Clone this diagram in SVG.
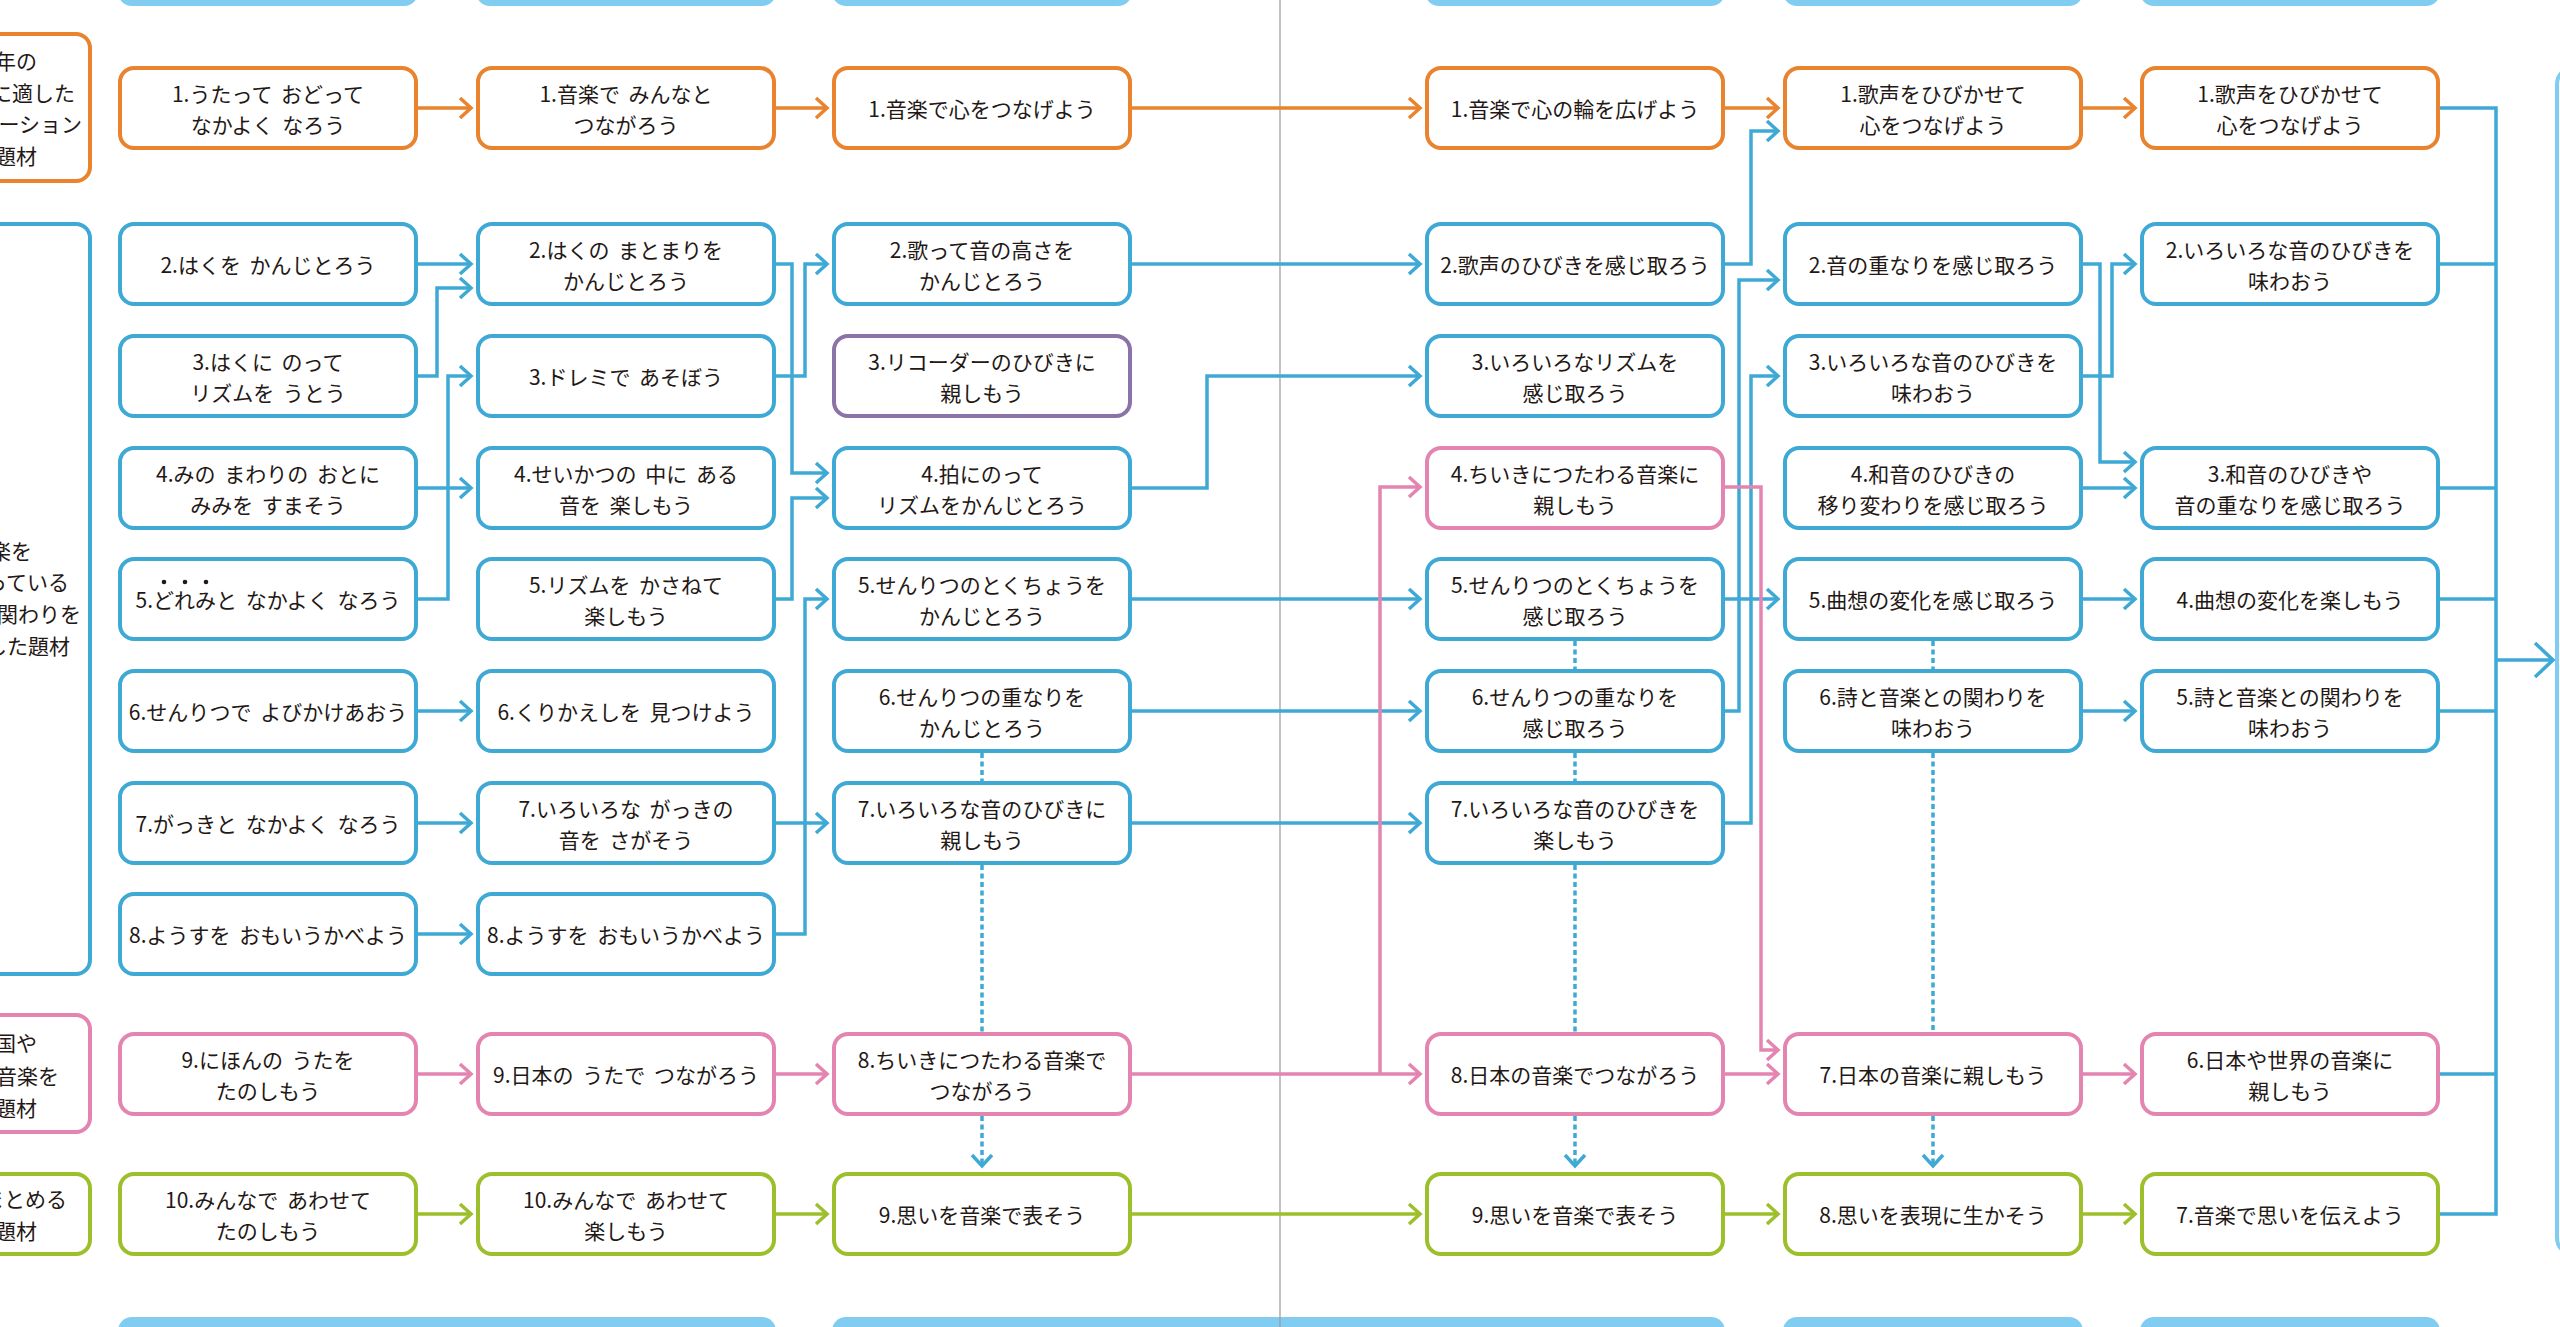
<svg xmlns="http://www.w3.org/2000/svg" width="2560" height="1327" viewBox="0 0 2560 1327">
<defs>
<style>
.n{fill:#fff;stroke-width:4}
.or{stroke:#e9832e}.bl{stroke:#3fa9d5}.pu{stroke:#8b72a8}.pk{stroke:#e385b0}.gr{stroke:#9dbf2b}
.t{font-family:"Noto Sans CJK JP","Noto Sans",sans-serif;font-size:21px;fill:#231815;text-anchor:middle;dominant-baseline:central;word-spacing:4px}
.ct{font-family:"Noto Sans CJK JP","Noto Sans",sans-serif;font-size:21px;fill:#231815;text-anchor:end;dominant-baseline:central}
.c{fill:none;stroke-width:3.5}
.d{fill:none;stroke-width:3.5;stroke-dasharray:5 3.5}
.bar{fill:#80cdf1}
.cat{fill:#fff;stroke-width:4}
</style>
<marker id="ao" markerUnits="userSpaceOnUse" markerWidth="14" markerHeight="22" refX="12" refY="11" orient="auto" overflow="visible"><path d="M1,1 L12,11 L1,21" fill="none" stroke="#e9832e" stroke-width="3.5"/></marker>
<marker id="ab" markerUnits="userSpaceOnUse" markerWidth="14" markerHeight="22" refX="12" refY="11" orient="auto" overflow="visible"><path d="M1,1 L12,11 L1,21" fill="none" stroke="#3fa9d5" stroke-width="3.5"/></marker>
<marker id="ap" markerUnits="userSpaceOnUse" markerWidth="14" markerHeight="22" refX="12" refY="11" orient="auto" overflow="visible"><path d="M1,1 L12,11 L1,21" fill="none" stroke="#e385b0" stroke-width="3.5"/></marker>
<marker id="ag" markerUnits="userSpaceOnUse" markerWidth="14" markerHeight="22" refX="12" refY="11" orient="auto" overflow="visible"><path d="M1,1 L12,11 L1,21" fill="none" stroke="#9dbf2b" stroke-width="3.5"/></marker>
<marker id="abig" markerUnits="userSpaceOnUse" markerWidth="22" markerHeight="38" refX="19" refY="18" orient="auto" overflow="visible"><path d="M1,1 L19,18 L1,35" fill="none" stroke="#3fa9d5" stroke-width="3.5"/></marker>
</defs>
<rect x="0" y="0" width="2560" height="1327" fill="#fff"/>

<g id="bars">
<rect class="bar" x="118" y="-30" width="300" height="36" rx="14"/>
<rect class="bar" x="476" y="-30" width="300" height="36" rx="14"/>
<rect class="bar" x="832" y="-30" width="300" height="36" rx="14"/>
<rect class="bar" x="1425" y="-30" width="300" height="36" rx="14"/>
<rect class="bar" x="1783" y="-30" width="300" height="36" rx="14"/>
<rect class="bar" x="2140" y="-30" width="300" height="36" rx="14"/>
<rect class="bar" x="118" y="1317" width="658" height="40" rx="14"/>
<rect class="bar" x="832" y="1317" width="893" height="40" rx="14"/>
<rect class="bar" x="1783" y="1317" width="300" height="40" rx="14"/>
<rect class="bar" x="2140" y="1317" width="300" height="40" rx="14"/>
</g>
<line x1="1280" y1="0" x2="1280" y2="1327" stroke="#9a9a9a" stroke-width="1.2"/>
<rect x="2557" y="68" width="100" height="1186" rx="16" fill="none" stroke="#80cdf1" stroke-width="4"/>

<g id="categories">
<g id="cat-orange"><rect class="cat or" x="-30" y="34" width="120" height="147" rx="14"/>
<text class="ct" x="37" y="60">年の</text><text class="ct" x="75" y="92">に適した</text><text class="ct" x="82" y="123">ケーション</text><text class="ct" x="37" y="155">題材</text></g>
<g id="cat-blue"><rect class="cat bl" x="-30" y="224" width="120" height="750" rx="14"/>
<text class="ct" x="32" y="550">楽を</text><text class="ct" x="69" y="581">っている</text><text class="ct" x="81" y="613">関わりを</text><text class="ct" x="70" y="645">した題材</text></g>
<g id="cat-pink"><rect class="cat pk" x="-30" y="1015" width="120" height="117" rx="14"/>
<text class="ct" x="37" y="1042">国や</text><text class="ct" x="59" y="1075">音楽を</text><text class="ct" x="37" y="1107">題材</text></g>
<g id="cat-green"><rect class="cat gr" x="-30" y="1174" width="120" height="80" rx="14"/>
<text class="ct" x="67" y="1198">まとめる</text><text class="ct" x="37" y="1230">題材</text></g>
</g>

<g id="connectors">
<!-- orange -->
<path class="c or" marker-end="url(#ao)" d="M418,108 H471"/>
<path class="c or" marker-end="url(#ao)" d="M776,108 H827"/>
<path class="c or" marker-end="url(#ao)" d="M1132,108 H1420"/>
<path class="c or" marker-end="url(#ao)" d="M1725,108 H1778"/>
<path class="c or" marker-end="url(#ao)" d="M2083,108 H2135"/>
<!-- blue col1-col2 -->
<path class="c bl" marker-end="url(#ab)" d="M418,264 H471"/>
<path class="c bl" marker-end="url(#ab)" d="M418,376 H437 V288 H471"/>
<path class="c bl" marker-end="url(#ab)" d="M418,488 H471"/>
<path class="c bl" marker-end="url(#ab)" d="M418,599 H448 V376 H471"/>
<path class="c bl" marker-end="url(#ab)" d="M418,711 H471"/>
<path class="c bl" marker-end="url(#ab)" d="M418,823 H471"/>
<path class="c bl" marker-end="url(#ab)" d="M418,934 H471"/>
<!-- blue col2-col3 -->
<path class="c bl" marker-end="url(#ab)" d="M776,264 H792 V473 H827"/>
<path class="c bl" marker-end="url(#ab)" d="M776,376 H805 V264 H827"/>
<path class="c bl" marker-end="url(#ab)" d="M776,599 H792 V498 H827"/>
<path class="c bl" marker-end="url(#ab)" d="M776,823 H827"/>
<path class="c bl" marker-end="url(#ab)" d="M776,934 H805 V599 H827"/>
<!-- blue col3-col4 -->
<path class="c bl" marker-end="url(#ab)" d="M1132,264 H1420"/>
<path class="c bl" marker-end="url(#ab)" d="M1132,488 H1207 V376 H1420"/>
<path class="c bl" marker-end="url(#ab)" d="M1132,599 H1420"/>
<path class="c bl" marker-end="url(#ab)" d="M1132,711 H1420"/>
<path class="c bl" marker-end="url(#ab)" d="M1132,823 H1420"/>
<!-- blue col4-col5 -->
<path class="c bl" marker-end="url(#ab)" d="M1725,264 H1751 V131 H1778"/>
<path class="c bl" marker-end="url(#ab)" d="M1725,711 H1739 V280 H1778"/>
<path class="c bl" marker-end="url(#ab)" d="M1725,823 H1751 V376 H1778"/>
<path class="c bl" marker-end="url(#ab)" d="M1725,599 H1778"/>
<!-- blue col5-col6 -->
<path class="c bl" marker-end="url(#ab)" d="M2083,264 H2100 V462 H2135"/>
<path class="c bl" marker-end="url(#ab)" d="M2083,376 H2112 V264 H2135"/>
<path class="c bl" marker-end="url(#ab)" d="M2083,488 H2135"/>
<path class="c bl" marker-end="url(#ab)" d="M2083,599 H2135"/>
<path class="c bl" marker-end="url(#ab)" d="M2083,711 H2135"/>
<!-- bus -->
<path class="c bl" d="M2440,108 H2496 V1214 H2440"/>
<path class="c bl" d="M2440,264 H2496 M2440,488 H2496 M2440,599 H2496 M2440,711 H2496 M2440,1074 H2496"/>
<path class="c bl" marker-end="url(#abig)" d="M2496,660 H2553"/>
<!-- pink -->
<path class="c pk" marker-end="url(#ap)" d="M418,1074 H471"/>
<path class="c pk" marker-end="url(#ap)" d="M776,1074 H827"/>
<path class="c pk" marker-end="url(#ap)" d="M1132,1074 H1420"/>
<path class="c pk" marker-end="url(#ap)" d="M1380,1074 V487 H1420"/>
<path class="c pk" marker-end="url(#ap)" d="M1725,487 H1761 V1050 H1778"/>
<path class="c pk" marker-end="url(#ap)" d="M1725,1074 H1778"/>
<path class="c pk" marker-end="url(#ap)" d="M2083,1074 H2135"/>
<!-- green -->
<path class="c gr" marker-end="url(#ag)" d="M418,1214 H471"/>
<path class="c gr" marker-end="url(#ag)" d="M776,1214 H827"/>
<path class="c gr" marker-end="url(#ag)" d="M1132,1214 H1420"/>
<path class="c gr" marker-end="url(#ag)" d="M1725,1214 H1778"/>
<path class="c gr" marker-end="url(#ag)" d="M2083,1214 H2135"/>
<!-- dotted -->
<path class="d bl" d="M982,753 V781 M982,865 V1032"/>
<path class="d bl" marker-end="url(#ab)" d="M982,1116 V1166"/>
<path class="d bl" d="M1575,641 V669 M1575,753 V781 M1575,865 V1032"/>
<path class="d bl" marker-end="url(#ab)" d="M1575,1116 V1166"/>
<path class="d bl" d="M1933,641 V669 M1933,753 V1032"/>
<path class="d bl" marker-end="url(#ab)" d="M1933,1116 V1166"/>
</g>

<g id="nodes">
<!-- column 1 -->
<g id="c1r1"><rect class="n or" x="120" y="68" width="296" height="80" rx="14"/><text class="t" x="268" y="92.5">1.うたって おどって</text><text class="t" x="268" y="123.5">なかよく なろう</text></g>
<g id="c1r2"><rect class="n bl" x="120" y="224" width="296" height="80" rx="14"/><text class="t" x="268" y="264">2.はくを かんじとろう</text></g>
<g id="c1r3"><rect class="n bl" x="120" y="336" width="296" height="80" rx="14"/><text class="t" x="268" y="360.5">3.はくに のって</text><text class="t" x="268" y="391.5">リズムを うとう</text></g>
<g id="c1r4"><rect class="n bl" x="120" y="448" width="296" height="80" rx="14"/><text class="t" x="268" y="472.5">4.みの まわりの おとに</text><text class="t" x="268" y="503.5">みみを すまそう</text></g>
<g id="c1r5"><rect class="n bl" x="120" y="559" width="296" height="80" rx="14"/><text class="t" x="268" y="599">5.どれみと なかよく なろう</text><circle cx="164" cy="582" r="2.3" fill="#231815"/><circle cx="185" cy="582" r="2.3" fill="#231815"/><circle cx="206" cy="582" r="2.3" fill="#231815"/></g>
<g id="c1r6"><rect class="n bl" x="120" y="671" width="296" height="80" rx="14"/><text class="t" x="268" y="711">6.せんりつで よびかけあおう</text></g>
<g id="c1r7"><rect class="n bl" x="120" y="783" width="296" height="80" rx="14"/><text class="t" x="268" y="823">7.がっきと なかよく なろう</text></g>
<g id="c1r8"><rect class="n bl" x="120" y="894" width="296" height="80" rx="14"/><text class="t" x="268" y="934">8.ようすを おもいうかべよう</text></g>
<g id="c1r9"><rect class="n pk" x="120" y="1034" width="296" height="80" rx="14"/><text class="t" x="268" y="1058.5">9.にほんの うたを</text><text class="t" x="268" y="1089.5">たのしもう</text></g>
<g id="c1r10"><rect class="n gr" x="120" y="1174" width="296" height="80" rx="14"/><text class="t" x="268" y="1198.5">10.みんなで あわせて</text><text class="t" x="268" y="1229.5">たのしもう</text></g>
<!-- column 2 -->
<g id="c2r1"><rect class="n or" x="478" y="68" width="296" height="80" rx="14"/><text class="t" x="626" y="92.5">1.音楽で みんなと</text><text class="t" x="626" y="123.5">つながろう</text></g>
<g id="c2r2"><rect class="n bl" x="478" y="224" width="296" height="80" rx="14"/><text class="t" x="626" y="248.5">2.はくの まとまりを</text><text class="t" x="626" y="279.5">かんじとろう</text></g>
<g id="c2r3"><rect class="n bl" x="478" y="336" width="296" height="80" rx="14"/><text class="t" x="626" y="376">3.ドレミで あそぼう</text></g>
<g id="c2r4"><rect class="n bl" x="478" y="448" width="296" height="80" rx="14"/><text class="t" x="626" y="472.5">4.せいかつの 中に ある</text><text class="t" x="626" y="503.5">音を 楽しもう</text></g>
<g id="c2r5"><rect class="n bl" x="478" y="559" width="296" height="80" rx="14"/><text class="t" x="626" y="583.5">5.リズムを かさねて</text><text class="t" x="626" y="614.5">楽しもう</text></g>
<g id="c2r6"><rect class="n bl" x="478" y="671" width="296" height="80" rx="14"/><text class="t" x="626" y="711">6.くりかえしを 見つけよう</text></g>
<g id="c2r7"><rect class="n bl" x="478" y="783" width="296" height="80" rx="14"/><text class="t" x="626" y="807.5">7.いろいろな がっきの</text><text class="t" x="626" y="838.5">音を さがそう</text></g>
<g id="c2r8"><rect class="n bl" x="478" y="894" width="296" height="80" rx="14"/><text class="t" x="626" y="934">8.ようすを おもいうかべよう</text></g>
<g id="c2r9"><rect class="n pk" x="478" y="1034" width="296" height="80" rx="14"/><text class="t" x="626" y="1074">9.日本の うたで つながろう</text></g>
<g id="c2r10"><rect class="n gr" x="478" y="1174" width="296" height="80" rx="14"/><text class="t" x="626" y="1198.5">10.みんなで あわせて</text><text class="t" x="626" y="1229.5">楽しもう</text></g>
<!-- column 3 -->
<g id="c3r1"><rect class="n or" x="834" y="68" width="296" height="80" rx="14"/><text class="t" x="982" y="108">1.音楽で心をつなげよう</text></g>
<g id="c3r2"><rect class="n bl" x="834" y="224" width="296" height="80" rx="14"/><text class="t" x="982" y="248.5">2.歌って音の高さを</text><text class="t" x="982" y="279.5">かんじとろう</text></g>
<g id="c3r3"><rect class="n pu" x="834" y="336" width="296" height="80" rx="14"/><text class="t" x="982" y="360.5">3.リコーダーのひびきに</text><text class="t" x="982" y="391.5">親しもう</text></g>
<g id="c3r4"><rect class="n bl" x="834" y="448" width="296" height="80" rx="14"/><text class="t" x="982" y="472.5">4.拍にのって</text><text class="t" x="982" y="503.5">リズムをかんじとろう</text></g>
<g id="c3r5"><rect class="n bl" x="834" y="559" width="296" height="80" rx="14"/><text class="t" x="982" y="583.5">5.せんりつのとくちょうを</text><text class="t" x="982" y="614.5">かんじとろう</text></g>
<g id="c3r6"><rect class="n bl" x="834" y="671" width="296" height="80" rx="14"/><text class="t" x="982" y="695.5">6.せんりつの重なりを</text><text class="t" x="982" y="726.5">かんじとろう</text></g>
<g id="c3r7"><rect class="n bl" x="834" y="783" width="296" height="80" rx="14"/><text class="t" x="982" y="807.5">7.いろいろな音のひびきに</text><text class="t" x="982" y="838.5">親しもう</text></g>
<g id="c3r9"><rect class="n pk" x="834" y="1034" width="296" height="80" rx="14"/><text class="t" x="982" y="1058.5">8.ちいきにつたわる音楽で</text><text class="t" x="982" y="1089.5">つながろう</text></g>
<g id="c3r10"><rect class="n gr" x="834" y="1174" width="296" height="80" rx="14"/><text class="t" x="982" y="1214">9.思いを音楽で表そう</text></g>
<!-- column 4 -->
<g id="c4r1"><rect class="n or" x="1427" y="68" width="296" height="80" rx="14"/><text class="t" x="1575" y="108">1.音楽で心の輪を広げよう</text></g>
<g id="c4r2"><rect class="n bl" x="1427" y="224" width="296" height="80" rx="14"/><text class="t" x="1575" y="264">2.歌声のひびきを感じ取ろう</text></g>
<g id="c4r3"><rect class="n bl" x="1427" y="336" width="296" height="80" rx="14"/><text class="t" x="1575" y="360.5">3.いろいろなリズムを</text><text class="t" x="1575" y="391.5">感じ取ろう</text></g>
<g id="c4r4"><rect class="n pk" x="1427" y="448" width="296" height="80" rx="14"/><text class="t" x="1575" y="472.5">4.ちいきにつたわる音楽に</text><text class="t" x="1575" y="503.5">親しもう</text></g>
<g id="c4r5"><rect class="n bl" x="1427" y="559" width="296" height="80" rx="14"/><text class="t" x="1575" y="583.5">5.せんりつのとくちょうを</text><text class="t" x="1575" y="614.5">感じ取ろう</text></g>
<g id="c4r6"><rect class="n bl" x="1427" y="671" width="296" height="80" rx="14"/><text class="t" x="1575" y="695.5">6.せんりつの重なりを</text><text class="t" x="1575" y="726.5">感じ取ろう</text></g>
<g id="c4r7"><rect class="n bl" x="1427" y="783" width="296" height="80" rx="14"/><text class="t" x="1575" y="807.5">7.いろいろな音のひびきを</text><text class="t" x="1575" y="838.5">楽しもう</text></g>
<g id="c4r9"><rect class="n pk" x="1427" y="1034" width="296" height="80" rx="14"/><text class="t" x="1575" y="1074">8.日本の音楽でつながろう</text></g>
<g id="c4r10"><rect class="n gr" x="1427" y="1174" width="296" height="80" rx="14"/><text class="t" x="1575" y="1214">9.思いを音楽で表そう</text></g>
<!-- column 5 -->
<g id="c5r1"><rect class="n or" x="1785" y="68" width="296" height="80" rx="14"/><text class="t" x="1933" y="92.5">1.歌声をひびかせて</text><text class="t" x="1933" y="123.5">心をつなげよう</text></g>
<g id="c5r2"><rect class="n bl" x="1785" y="224" width="296" height="80" rx="14"/><text class="t" x="1933" y="264">2.音の重なりを感じ取ろう</text></g>
<g id="c5r3"><rect class="n bl" x="1785" y="336" width="296" height="80" rx="14"/><text class="t" x="1933" y="360.5">3.いろいろな音のひびきを</text><text class="t" x="1933" y="391.5">味わおう</text></g>
<g id="c5r4"><rect class="n bl" x="1785" y="448" width="296" height="80" rx="14"/><text class="t" x="1933" y="472.5">4.和音のひびきの</text><text class="t" x="1933" y="503.5">移り変わりを感じ取ろう</text></g>
<g id="c5r5"><rect class="n bl" x="1785" y="559" width="296" height="80" rx="14"/><text class="t" x="1933" y="599">5.曲想の変化を感じ取ろう</text></g>
<g id="c5r6"><rect class="n bl" x="1785" y="671" width="296" height="80" rx="14"/><text class="t" x="1933" y="695.5">6.詩と音楽との関わりを</text><text class="t" x="1933" y="726.5">味わおう</text></g>
<g id="c5r9"><rect class="n pk" x="1785" y="1034" width="296" height="80" rx="14"/><text class="t" x="1933" y="1074">7.日本の音楽に親しもう</text></g>
<g id="c5r10"><rect class="n gr" x="1785" y="1174" width="296" height="80" rx="14"/><text class="t" x="1933" y="1214">8.思いを表現に生かそう</text></g>
<!-- column 6 -->
<g id="c6r1"><rect class="n or" x="2142" y="68" width="296" height="80" rx="14"/><text class="t" x="2290" y="92.5">1.歌声をひびかせて</text><text class="t" x="2290" y="123.5">心をつなげよう</text></g>
<g id="c6r2"><rect class="n bl" x="2142" y="224" width="296" height="80" rx="14"/><text class="t" x="2290" y="248.5">2.いろいろな音のひびきを</text><text class="t" x="2290" y="279.5">味わおう</text></g>
<g id="c6r4"><rect class="n bl" x="2142" y="448" width="296" height="80" rx="14"/><text class="t" x="2290" y="472.5">3.和音のひびきや</text><text class="t" x="2290" y="503.5">音の重なりを感じ取ろう</text></g>
<g id="c6r5"><rect class="n bl" x="2142" y="559" width="296" height="80" rx="14"/><text class="t" x="2290" y="599">4.曲想の変化を楽しもう</text></g>
<g id="c6r6"><rect class="n bl" x="2142" y="671" width="296" height="80" rx="14"/><text class="t" x="2290" y="695.5">5.詩と音楽との関わりを</text><text class="t" x="2290" y="726.5">味わおう</text></g>
<g id="c6r9"><rect class="n pk" x="2142" y="1034" width="296" height="80" rx="14"/><text class="t" x="2290" y="1058.5">6.日本や世界の音楽に</text><text class="t" x="2290" y="1089.5">親しもう</text></g>
<g id="c6r10"><rect class="n gr" x="2142" y="1174" width="296" height="80" rx="14"/><text class="t" x="2290" y="1214">7.音楽で思いを伝えよう</text></g>
</g>
</svg>
